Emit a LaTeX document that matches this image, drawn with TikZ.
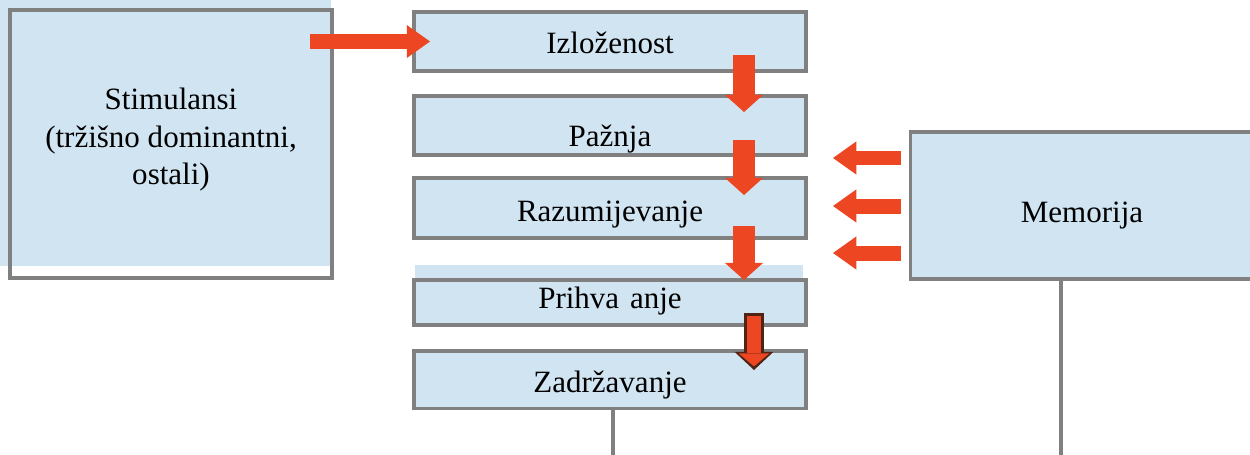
\documentclass[tikz,border=0pt]{standalone}
\usepackage{fontspec}
\setmainfont{Liberation Serif}
\usetikzlibrary{arrows.meta}
\definecolor{boxblue}{RGB}{208,228,242}
\definecolor{boxgray}{RGB}{128,128,128}
\definecolor{arrowred}{RGB}{236,70,34}
\definecolor{arrowdark}{RGB}{80,35,20}

\begin{document}
\begin{tikzpicture}[x=0.387pt,y=-0.387pt,font=\fontsize{12}{14.6}\selectfont,
    stage/.style={rectangle,draw=boxgray,line width=1.2pt,fill=boxblue,inner sep=0pt,
        minimum width=151.7pt,text depth=0pt},
    fatdown/.style={arrowred,line width=8.2pt,-{Triangle[length=6.6pt,width=14.7pt,line width=0pt]}},
    fatside/.style={arrowred,line width=5.8pt,-{Triangle[length=9pt,width=12.8pt,line width=0pt]}},
    stem/.style={boxgray,line width=1.2pt}]
\useasboundingbox (0,0) rectangle (1250,454);
% left box
\fill [boxblue] (0,0) rectangle (331,266);
\node (stim) at (171,144) [rectangle,draw=boxgray,line width=1.2pt,inner sep=0pt,
    minimum width=124.6pt,minimum height=103.7pt,align=center,text depth=6pt]
    {Stimulansi\\(tržišno dominantni,\hspace*{7.7pt}\\ostali)};
% middle column
\node (izl) at (610,41.5)  [stage,minimum height=22.8pt,text height=8.9pt]  {Izloženost};
\node (paz) at (610,125.5) [stage,minimum height=22.8pt,text height=16.6pt] {Pažnja};
\node (raz) at (610,208)   [stage,minimum height=23.2pt,text height=10.8pt] {Razumijevanje};
\fill [boxblue] (415,265) rectangle (803,280);
\node (pri) at (610,302.5) [stage,minimum height=17.4pt,text height=4.3pt]  {Prihva\hspace{0.35em}anje};
\node (zad) at (610,379.5) [stage,minimum height=22.1pt,text height=9.7pt]  {Zadržavanje};
% right box
\node (mem) at (1082,205.5) [stage,minimum width=133.1pt,minimum height=56.9pt,text height=12.8pt] {Memorija};

% arrows
\coordinate (stimout) at (310,41.5);
\coordinate (izlin)   at (430,41.5);
\draw [fatside] (stimout) -- (izlin);
\coordinate (d1a) at (744,55);  \coordinate (d1b) at (744,112);
\coordinate (d2a) at (744,140); \coordinate (d2b) at (744,195);
\coordinate (d3a) at (744,226); \coordinate (d3b) at (744,280);
\draw [fatdown] (d1a) -- (d1b);
\draw [fatdown] (d2a) -- (d2b);
\draw [fatdown] (d3a) -- (d3b);
\coordinate (d4a) at (754,313); \coordinate (d4b) at (754,370);
\draw [arrowdark,line width=7.6pt,-{Triangle[length=7pt,width=15pt,line width=0pt]}] (d4a) -- (d4b);
\draw [arrowred,line width=5.4pt,shorten >=1.4pt,shorten <=1pt,
    -{Triangle[length=5pt,width=11.8pt,line width=0pt]}] (d4a) -- (d4b);
\foreach \y/\n in {158/1,206/2,253/3} {
    \coordinate (mout\n) at (901,\y);
    \coordinate (rin\n)  at (833,\y);
    \draw [fatside] (mout\n) -- (rin\n);
}

% stems
\coordinate (zadend) at (613,460);
\coordinate (memend) at (1061,460);
\draw [stem] (zad.south -| zadend) -- (zadend);
\draw [stem] (mem.south -| memend) -- (memend);
\end{tikzpicture}
\end{document}
